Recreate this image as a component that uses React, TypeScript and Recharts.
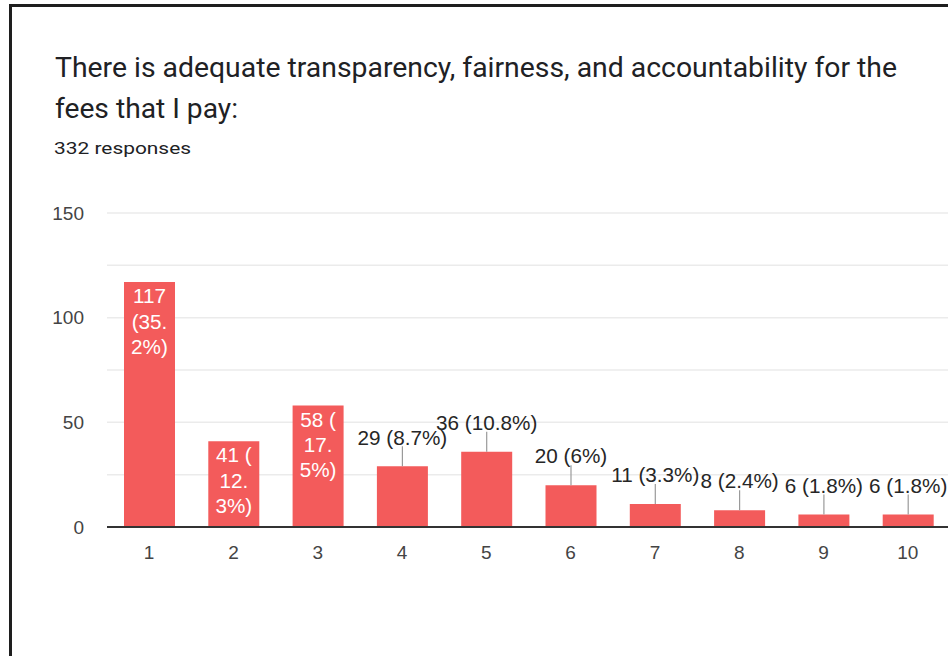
import { BarChart, Bar, XAxis, YAxis, CartesianGrid, LabelList } from "recharts";

// Answer scale (1..10) and the number of responses for each.
const categories = ["1", "2", "3", "4", "5", "6", "7", "8", "9", "10"];
const counts = [117, 41, 58, 29, 36, 20, 11, 8, 6, 6];
const percents = ["35.2%", "12.3%", "17.5%", "8.7%", "10.8%", "6%", "3.3%", "2.4%", "1.8%", "1.8%"];

const yTicks = [0, 50, 100, 150];
const gridValues = [0, 25, 50, 75, 100, 125, 150];

const titleLine1 = "There is adequate transparency, fairness, and accountability for the";
const titleLine2 = "fees that I pay:";
const subtitle = "332 responses";

const BAR_COLOR = "#f35b5b";
const LABEL_FONT = 20.7;

// rough Arial glyph widths (in em) used to wrap the in-bar labels like Google Charts does
function charWidth(c: string) {
  if (c >= "0" && c <= "9") return 0.556;
  if (c === " " || c === ".") return 0.278;
  if (c === "(" || c === ")") return 0.333;
  if (c === "%") return 0.889;
  return 0.556;
}

function wrapLabel(text: string, maxWidth: number) {
  const lines: string[] = [];
  let cur = "";
  let w = 0;
  for (const c of text) {
    const cw = charWidth(c) * LABEL_FONT;
    if (w + cw > maxWidth && cur.trim() !== "") {
      lines.push(cur.trim());
      cur = c === " " ? "" : c;
      w = c === " " ? 0 : cw;
    } else {
      cur += c;
      w += cw;
    }
  }
  if (cur.trim() !== "") lines.push(cur.trim());
  return lines;
}

const data = categories.map((name, i) => ({
  name,
  count: counts[i],
  label: `${counts[i]} (${percents[i]})`,
}));

// Bar label: white wrapped text inside tall bars, otherwise above the bar with a small leader line.
function BarLabel(props: any) {
  const { x, y, width, height, value } = props;
  const cx = Number(x) + Number(width) / 2;
  const top = Number(y);
  if (Number(height) >= 80) {
    const lines = wrapLabel(String(value), Number(width) - 13);
    return (
      <text x={cx} y={top + 14} textAnchor="middle" fill="#ffffff" fontSize={LABEL_FONT} fontFamily="Liberation Sans, Arial, sans-serif">
        {lines.map((l, i) => (
          <tspan key={i} x={cx} dy={i === 0 ? "0.35em" : 25.3}>
            {l}
          </tspan>
        ))}
      </text>
    );
  }
  return (
    <g>
      <line x1={cx} x2={cx} y1={top - 20} y2={top} stroke="#9a9a9a" strokeWidth={1.2} />
      <text x={cx} y={top - 29} dy="0.35em" textAnchor="middle" fill="#262626" fontSize={LABEL_FONT} fontFamily="Liberation Sans, Arial, sans-serif">
        {value}
      </text>
    </g>
  );
}

export default function App() {
  return (
    <div style={{ position: "fixed", left: 0, top: 0, width: 948, height: 656, overflow: "hidden", background: "#fff" }}>
      {/* frame of the screenshot */}
      <div style={{ position: "absolute", left: 9, top: 4, width: 1000, height: 700, border: "3px solid #1e1e1e" }} />

      <svg width={948} height={170} style={{ position: "absolute", left: 0, top: 0 }}>
        <text x={55} y={77} fontSize={28} fill="#202124" fontFamily="Roboto, sans-serif" textLength={842} lengthAdjust="spacingAndGlyphs">
          {titleLine1}
        </text>
        <text x={55} y={118} fontSize={28} fill="#202124" fontFamily="Roboto, sans-serif" textLength={183} lengthAdjust="spacingAndGlyphs">
          {titleLine2}
        </text>
        <text x={54} y={154} fontSize={17} fill="#202124" fontFamily="Roboto, sans-serif" textLength={137} lengthAdjust="spacingAndGlyphs">
          {subtitle}
        </text>
      </svg>

      <div style={{ position: "absolute", left: 0, top: 0 }}>
        <BarChart width={960} height={620} data={data} margin={{ top: 213, right: 10, left: 0, bottom: 63 }}>
          <CartesianGrid vertical={false} horizontalValues={gridValues} stroke="#ebebeb" strokeWidth={1.5} />
          <XAxis
            dataKey="name"
            height={30}
            axisLine={{ stroke: "#333333", strokeWidth: 2 }}
            tickLine={false}
            tickSize={0}
            tickMargin={19}
            tick={{ fill: "#444444", fontSize: 19, fontFamily: "Liberation Sans, Arial, sans-serif" }}
          />
          <YAxis
            width={107}
            domain={[0, 150]}
            ticks={yTicks}
            axisLine={false}
            tickLine={false}
            tickSize={0}
            tickMargin={23}
            tick={{ fill: "#444444", fontSize: 19, fontFamily: "Liberation Sans, Arial, sans-serif" }}
          />
          <Bar dataKey="count" fill={BAR_COLOR} barSize={51} isAnimationActive={false}>
            <LabelList dataKey="label" content={BarLabel} />
          </Bar>
        </BarChart>
      </div>
    </div>
  );
}
